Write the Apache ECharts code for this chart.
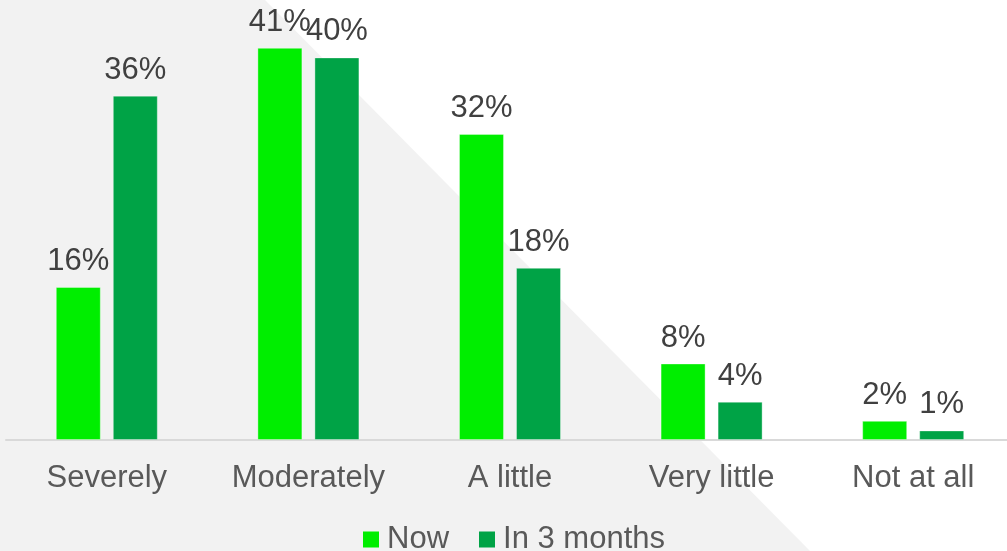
<!DOCTYPE html>
<html>
<head>
<meta charset="utf-8">
<title>Impact now and in 3 months</title>
<script src="https://cdn.jsdelivr.net/npm/echarts@6/dist/echarts.min.js"></script>
<style>
  html, body { margin: 0; padding: 0; background: #ffffff; overflow: hidden; }
  /* canvas runs a little past the right edge of the page so the last category is cut */
  #chart { width: 1015px; height: 551px; }
</style>
</head>
<body>
<div id="chart"></div>
<script>
// Survey answers by impact level
const categories = ['Severely', 'Moderately', 'A little', 'Very little', 'Not at all'];
const seriesNames = ['Now', 'In 3 months'];
const nowValues = [16, 41, 32, 8, 2];
const in3MonthsValues = [36, 40, 18, 4, 1];

const FONT = '"Liberation Sans", Arial, Helvetica, sans-serif';

const chart = echarts.init(document.getElementById('chart'), null, { renderer: 'canvas' });

const valueLabel = {
  show: true,
  position: 'top',
  distance: 10,
  formatter: p => p.value + '%',
  color: '#404040',
  fontSize: 31,
  fontFamily: FONT
};

chart.setOption({
  animation: false,
  backgroundColor: '#ffffff',
  textStyle: { fontFamily: FONT },
  graphic: [
    {
      // light grey diagonal band behind the plot
      type: 'polygon',
      z: -100,
      silent: true,
      shape: { points: [[0, 0], [265, 0], [810, 551], [0, 551]] },
      style: { fill: '#f2f2f2' }
    }
  ],
  legend: {
    data: seriesNames,
    left: 363,
    top: 524,
    padding: 0,
    itemWidth: 16,
    itemHeight: 16,
    itemGap: 30,
    icon: 'rect',
    itemStyle: { borderWidth: 0 },
    textStyle: { color: '#595959', fontSize: 31, fontFamily: FONT, padding: [0, 0, 0, 3] }
  },
  grid: { left: 6, right: 1, top: 0, bottom: 111, containLabel: false },
  xAxis: {
    type: 'category',
    data: categories,
    axisLine: { show: true, lineStyle: { color: '#d9d9d9', width: 2 } },
    axisTick: { show: false },
    axisLabel: { color: '#595959', fontSize: 31, fontFamily: FONT, margin: 23 }
  },
  yAxis: {
    type: 'value',
    min: 0,
    max: 46,
    show: false,
    splitLine: { show: false }
  },
  series: [
    {
      name: seriesNames[0],
      type: 'bar',
      data: nowValues,
      barWidth: 45,
      barGap: '26.7%',
      itemStyle: { color: '#00ee00', borderColor: 'rgba(255,255,255,0.35)', borderWidth: 1 },
      label: valueLabel
    },
    {
      name: seriesNames[1],
      type: 'bar',
      data: in3MonthsValues,
      barWidth: 45,
      barGap: '26.7%',
      itemStyle: { color: '#00a346', borderColor: 'rgba(255,255,255,0.35)', borderWidth: 1 },
      label: valueLabel
    }
  ]
});
</script>
</body>
</html>
